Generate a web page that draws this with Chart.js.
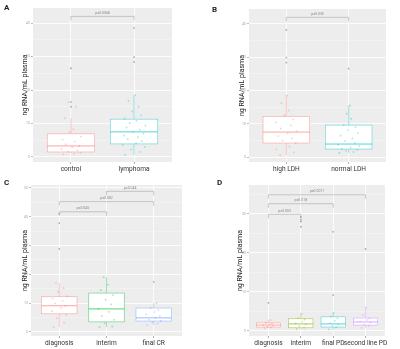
<!DOCTYPE html>
<html>
<head>
<meta charset="utf-8">
<script src="https://cdn.jsdelivr.net/npm/chart.js@4"></script>
<style>
  body { margin: 0; background: #fff; }
  #wrap { position: relative; width: 400px; height: 349px; font-family: Roboto, "Liberation Sans", sans-serif; }
  canvas { position: absolute; }
  .tag { position: absolute; font-size: 8px; font-weight: bold; color: #222; }
</style>
</head>
<body>
<div id="wrap">
  <canvas id="pa" width="200" height="175" style="left:0;top:0"></canvas>
  <canvas id="pb" width="200" height="175" style="left:200px;top:0"></canvas>
  <canvas id="pc" width="200" height="174" style="left:0;top:175px"></canvas>
  <canvas id="pd" width="200" height="174" style="left:200px;top:175px"></canvas>
  <div class="tag" style="left:4px;top:3px">A</div>
  <div class="tag" style="left:212px;top:5px">B</div>
  <div class="tag" style="left:4px;top:178px">C</div>
  <div class="tag" style="left:217px;top:178px">D</div>
</div>
<script>
// ---- data ----
// boxes: [lower whisker, q1, median, q3, upper whisker]
const aCategories = ['control', 'lymphoma'];
const aBoxes = [[1.2, 1.5, 3.3, 6.9, 11.6], [0.6, 3.9, 7.5, 11.3, 18.5]];
const aOutliers = [[15.0, 16.4, 26.5], [28.4, 29.9, 38.5]];
const aPoints = [
  [[-0.12,0.8],[0.05,1.0],[0.15,1.3],[-0.05,1.6],[0.1,2.0],[-0.15,2.4],[0.02,2.9],[0.13,3.3],[-0.08,3.8],[0.06,4.6],[-0.13,5.2],[0.16,6.1],[-0.02,7.4],[0.04,8.3],[-0.1,11.6],[0.08,15.0],[-0.04,16.4]],
  [[-0.14,0.6],[0.1,1.5],[-0.05,2.2],[0.17,3.0],[-0.18,3.6],[0.03,4.1],[0.12,4.8],[-0.1,5.3],[0.06,5.9],[-0.16,6.4],[0.15,7.0],[-0.02,7.5],[0.09,8.1],[-0.12,8.8],[0.18,9.4],[-0.07,10.1],[0.04,10.8],[-0.15,11.5],[0.11,12.4],[-0.03,13.6],[0.07,15.0],[-0.09,16.8],[0.02,18.5]]
];
const aBrackets = [[1, 2, 42, 'p=0.0068']];
const aTicks = [0, 10, 20, 30, 40];

const bCategories = ['high LDH', 'normal LDH'];
const bBoxes = [[0.6, 4.2, 7.5, 12.2, 18.5], [1.2, 2.4, 3.9, 9.6, 15.5]];
const bOutliers = [[28.4, 29.9, 38.2], [26.6]];
const bPoints = [
  [[-0.1,0.6],[0.12,1.4],[-0.16,2.3],[0.05,3.1],[0.15,4.2],[-0.06,4.9],[0.09,5.6],[-0.13,6.3],[0.02,7.1],[0.17,7.8],[-0.09,8.6],[0.07,9.5],[-0.17,10.4],[0.11,11.3],[-0.03,12.5],[0.04,14.0],[-0.08,16.2],[0.01,18.5]],
  [[-0.15,1.2],[0.08,1.5],[-0.04,1.9],[0.14,2.2],[-0.11,2.5],[0.03,2.9],[0.17,3.3],[-0.17,3.7],[0.1,4.2],[-0.06,4.8],[0.06,5.6],[-0.13,6.4],[0.15,7.2],[-0.01,8.1],[0.11,9.0],[-0.08,9.6],[0.04,11.5],[-0.03,13.0],[0.02,15.5]]
];
const bBrackets = [[1, 2, 42, 'p=0.035']];
const bTicks = [0, 10, 20, 30, 40];

const cCategories = ['diagnosis', 'interim', 'final CR'];
const cBoxes = [[1.7, 6.3, 9.1, 12.2, 17.0], [1.7, 3.5, 8.0, 13.5, 19.0], [2.4, 3.8, 4.9, 8.3, 10.0]];
const cOutliers = [[28.8, 37.8, 41.0], [], [17.4]];
const cPoints = [
  [[-0.12,1.7],[0.1,3.2],[-0.05,4.8],[0.15,6.0],[-0.16,7.2],[0.04,8.4],[0.12,9.1],[-0.09,9.9],[0.07,10.8],[-0.14,11.6],[0.17,12.4],[-0.02,13.9],[0.09,15.2],[-0.07,17.0]],
  [[-0.15,1.7],[0.12,1.9],[-0.04,3.0],[0.16,4.2],[-0.1,5.5],[0.05,7.0],[-0.17,8.0],[0.1,9.6],[-0.02,11.2],[0.14,12.8],[-0.12,14.5],[0.03,16.4],[-0.06,19.0]],
  [[-0.14,2.4],[0.08,2.9],[-0.03,3.4],[0.15,3.8],[-0.1,4.3],[0.04,4.9],[0.13,5.5],[-0.16,6.1],[0.01,6.9],[0.1,7.7],[-0.07,8.3],[0.06,10.0]]
];
const cBrackets = [[1, 2, 41.7, 'p=0.045'], [1, 3, 45.2, 'p=0.002'], [2, 3, 48.8, 'p=0.044']];
const cTicks = [0, 10, 20, 30, 40, 50];

const dCategories = ['diagnosis', 'interim', 'final PD', 'second line PD'];
const dBoxes = [[0.7, 1.0, 1.5, 2.05, 2.8], [0.5, 0.8, 1.8, 3.1, 4.4], [0.4, 1.0, 1.8, 3.6, 4.6], [0.8, 1.5, 2.3, 3.3, 6.0]];
const dOutliers = [[7.2], [26.7, 28.0, 28.5, 29.2], [9.2, 25.4], [21.0]];
const dPoints = [
  [[-0.12,0.7],[0.08,0.9],[-0.04,1.1],[0.14,1.3],[-0.16,1.5],[0.03,1.7],[0.11,1.9],[-0.08,2.1],[0.06,2.8]],
  [[-0.13,0.5],[0.1,0.8],[-0.05,1.2],[0.15,1.6],[-0.16,1.9],[0.04,2.4],[0.12,2.9],[-0.09,3.3],[0.02,4.4]],
  [[-0.14,0.4],[0.09,0.9],[-0.03,1.3],[0.16,1.7],[-0.1,2.0],[0.05,2.6],[0.13,3.2],[-0.07,3.7],[0.01,4.6]],
  [[-0.12,0.8],[0.1,1.3],[-0.05,1.7],[0.15,2.1],[-0.16,2.4],[0.04,2.8],[0.12,3.2],[-0.08,4.1],[0.02,6.0]]
];
const dBrackets = [[1, 2, 29.9, 'p=0.003'], [1, 3, 32.6, 'p=0.018'], [1, 4, 34.9, 'p=0.0011']];
const dTicks = [0, 10, 20, 30];

const hue2 = ['#F8766D', '#00BFC4'];
const hue3 = ['#F8766D', '#00BA38', '#619CFF'];
const hue4 = ['#F8766D', '#7CAE00', '#00BFC4', '#C77CFF'];

const FONT = 'Roboto, "Liberation Sans", sans-serif';

function alpha(hex, a) {
  const n = parseInt(hex.slice(1), 16);
  return `rgba(${n >> 16},${(n >> 8) & 255},${n & 255},${a})`;
}

// draws panel background, boxes and brackets through the chart's scales
const ggBox = {
  id: 'ggBox',
  beforeDraw(chart, args, o) {
    const a = chart.chartArea, ctx = chart.ctx;
    ctx.save();
    ctx.fillStyle = '#ededed';
    ctx.fillRect(a.left, a.top, a.right - a.left, a.bottom - a.top);
    ctx.restore();
  },
  beforeDatasetsDraw(chart, args, o) {
    const x = chart.scales.x, y = chart.scales.y, ctx = chart.ctx;
    ctx.save();
    o.boxes.forEach((b, i) => {
      const c = i + 1, col = alpha(o.colors[i], 0.75);
      const xl = x.getPixelForValue(c - 0.375), xr = x.getPixelForValue(c + 0.375), xc = x.getPixelForValue(c);
      const [lo, q1, md, q3, hi] = b.map(v => y.getPixelForValue(v));
      ctx.strokeStyle = col;
      ctx.lineWidth = 0.5;
      ctx.beginPath();
      ctx.moveTo(xc, hi); ctx.lineTo(xc, q3);
      ctx.moveTo(xc, q1); ctx.lineTo(xc, lo);
      ctx.stroke();
      ctx.fillStyle = '#fff';
      ctx.fillRect(xl, q3, xr - xl, q1 - q3);
      ctx.strokeRect(xl, q3, xr - xl, q1 - q3);
      ctx.lineWidth = 0.9;
      ctx.beginPath();
      ctx.moveTo(xl, md); ctx.lineTo(xr, md);
      ctx.stroke();
    });
    ctx.restore();
  },
  afterDatasetsDraw(chart, args, o) {
    const x = chart.scales.x, y = chart.scales.y, ctx = chart.ctx;
    ctx.save();
    ctx.strokeStyle = '#999';
    ctx.lineWidth = 0.5;
    ctx.fillStyle = '#888';
    ctx.font = '3.5px ' + FONT;
    ctx.textAlign = 'center';
    ctx.textBaseline = 'bottom';
    o.brackets.forEach(([f, t, v, label]) => {
      const x1 = x.getPixelForValue(f), x2 = x.getPixelForValue(t), yy = y.getPixelForValue(v);
      ctx.beginPath();
      ctx.moveTo(x1, yy + 4); ctx.lineTo(x1, yy); ctx.lineTo(x2, yy); ctx.lineTo(x2, yy + 4);
      ctx.stroke();
      ctx.fillText(label, (x1 + x2) / 2, yy - 1.5);
    });
    ctx.restore();
  }
};

function makePanel(id, cats, boxes, outliers, points, brackets, ticks, colors, yMin, yMax, L) {
  const datasets = points.map((pts, i) => ({
    data: pts.map(p => ({ x: i + 1 + p[0], y: p[1] })),
    backgroundColor: alpha(colors[i], 0.35),
    borderWidth: 0,
    pointRadius: 0.9
  }));
  datasets.push({
    data: outliers.flatMap((ys, i) => ys.map(v => ({ x: i + 1, y: v }))),
    backgroundColor: 'rgba(110,110,110,0.55)',
    borderWidth: 0,
    pointRadius: 0.9
  });
  const canvas = document.getElementById(id);
  const W = canvas.width, H = canvas.height;
  const step = ticks[1] - ticks[0];
  new Chart(canvas, {
    type: 'scatter',
    data: { datasets },
    plugins: [ggBox],
    options: {
      responsive: false,
      animation: false,
      devicePixelRatio: 1,
      layout: { padding: { left: L.titleX - 4.2, right: W - L.right, top: L.top, bottom: 0 } },
      plugins: {
        legend: { display: false },
        tooltip: { enabled: false },
        ggBox: { boxes, brackets, colors }
      },
      scales: {
        x: {
          type: 'linear',
          min: 0.4,
          max: cats.length + 0.6,
          afterBuildTicks: s => { s.ticks = cats.map((c, i) => ({ value: i + 1 })); },
          afterFit: s => { s.height = H - L.bottom; },
          border: { display: false },
          grid: { color: '#ffffff', lineWidth: 0.8, tickLength: 2, tickColor: '#999' },
          ticks: {
            padding: 1,
            color: '#333',
            font: { family: FONT, size: 6.6 },
            maxRotation: 0,
            autoSkip: false,
            callback: v => cats[v - 1]
          }
        },
        y: {
          min: yMin,
          max: yMax,
          afterBuildTicks: s => {
            const t = [];
            for (let v = ticks[0]; v <= yMax; v += step / 2) if (v >= yMin) t.push({ value: v });
            s.ticks = t;
          },
          afterFit: s => { s.width = L.left - (L.titleX - 4.2); },
          border: { display: false },
          grid: {
            color: c => (c.tick && ticks.includes(c.tick.value)) ? '#ffffff' : '#f6f6f6',
            lineWidth: c => (c.tick && ticks.includes(c.tick.value)) ? 0.8 : 0.5,
            tickLength: 2,
            tickColor: c => (c.tick && ticks.includes(c.tick.value)) ? '#aaa' : 'rgba(0,0,0,0)'
          },
          ticks: {
            padding: 1,
            color: '#aaa',
            font: { family: FONT, size: 3.5 },
            callback: v => ticks.includes(v) ? String(v) : ''
          },
          title: {
            display: true,
            text: 'ng RNA/mL plasma',
            color: '#222',
            padding: 0,
            font: { family: FONT, size: 7 }
          }
        }
      }
    }
  });
}

makePanel('pa', aCategories, aBoxes, aOutliers, aPoints, aBrackets, aTicks, hue2, -1.5, 44.5,
  { left: 33, right: 172, top: 8, bottom: 162, titleX: 25 });
makePanel('pb', bCategories, bBoxes, bOutliers, bPoints, bBrackets, bTicks, hue2, -1.5, 44.5,
  { left: 49, right: 186, top: 9, bottom: 162, titleX: 42 });
makePanel('pc', cCategories, cBoxes, cOutliers, cPoints, cBrackets, cTicks, hue3, -1.4, 51,
  { left: 31, right: 182, top: 10, bottom: 161, titleX: 25 });
makePanel('pd', dCategories, dBoxes, dOutliers, dPoints, dBrackets, dTicks, hue4, -1.3, 37.4,
  { left: 49, right: 185, top: 10, bottom: 161, titleX: 40 });
</script>
</body>
</html>
